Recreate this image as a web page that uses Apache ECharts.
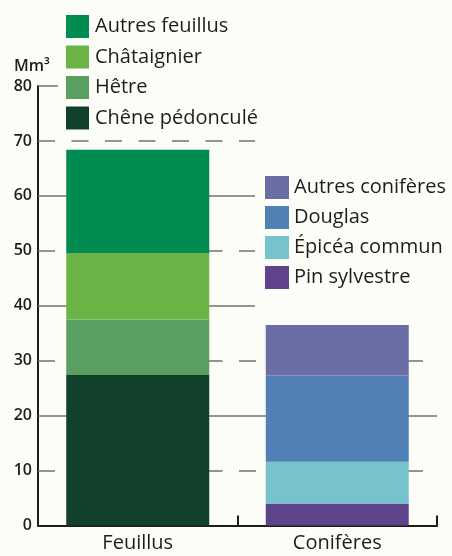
<!DOCTYPE html>
<html>
<head>
<meta charset="utf-8">
<script src="https://cdn.jsdelivr.net/npm/echarts@6/dist/echarts.min.js"></script>
<style>
html,body{margin:0;padding:0;background:#fdfdf8;}
#chart{width:452px;height:556px;}
</style>
</head>
<body>
<div id="chart"></div>
<script>
const categories = ['Feuillus', 'Conifères'];
const feuillusNames = ['Chêne pédonculé', 'Hêtre', 'Châtaignier', 'Autres feuillus'];
const feuillusValues = [27.4, 10.1, 12.1, 18.8];
const coniferesNames = ['Pin sylvestre', 'Épicéa commun', 'Douglas', 'Autres conifères'];
const coniferesValues = [4.0, 7.6, 15.7, 9.2];
const yMin = 0, yMax = 80, yInterval = 10;
const solidGridValues = [60, 40, 20];
const dashedGridValues = [70, 50, 30, 10];
const topTickValue = 80;

const feuillusColors = ['#12412b', '#5a9e62', '#6ab344', '#008c50'];
const coniferesColors = ['#5f438b', '#76c3ce', '#5180b6', '#6b6ea4'];

const FONT = 'Open Sans';
const TEXT = '#1d1d1b';
const GRID = '#707070';

// gridline extents in fraction of grid width (style)
const gridLines = [];
solidGridValues.forEach(v => {
  const end = v >= 40 ? 0.544 : 1.0;
  gridLines.push([{coord: [0, v], lineStyle: {type: 'solid'}}, {coord: [end, v]}]);
});
dashedGridValues.forEach(v => {
  const end = v >= 40 ? 0.544 : 0.965;
  gridLines.push([{coord: [0, v], lineStyle: {type: [17, 16.5]}}, {coord: [end, v]}]);
});
gridLines.push([{coord: [0, topTickValue], lineStyle: {type: 'solid'}}, {coord: [0.05, topTickValue]}]);

const series = [];
feuillusNames.forEach((n, i) => {
  series.push({
    name: n, type: 'bar', stack: 'total', barWidth: 143, z: 3,
    itemStyle: {color: feuillusColors[i]},
    data: [feuillusValues[i], '-']
  });
});
coniferesNames.forEach((n, i) => {
  series.push({
    name: n, type: 'bar', stack: 'total', barWidth: 143, z: 3,
    itemStyle: {color: coniferesColors[i]},
    data: ['-', coniferesValues[i]]
  });
});
series.push({
  type: 'line', xAxisIndex: 1, yAxisIndex: 0, z: 1, silent: true,
  data: [], symbol: 'none',
  markLine: {
    z: 1,
    silent: true, symbol: ['none', 'none'], animation: false,
    label: {show: false},
    lineStyle: {color: GRID, width: 1.5},
    data: gridLines
  }
});

const chart = echarts.init(document.getElementById('chart'), null, {renderer: 'canvas'});
chart.setOption({
  backgroundColor: '#fdfdf8',
  animation: false,
  textStyle: {fontFamily: FONT, color: TEXT},
  grid: {left: 38, right: 15, top: 86, bottom: 30.5, containLabel: false},
  legend: [
    {
      data: feuillusNames.slice().reverse(),
      orient: 'vertical', left: 66, top: 15, padding: 0,
      itemWidth: 23, itemHeight: 23, itemGap: 7.5, icon: 'rect',
      selectedMode: false,
      textStyle: {fontFamily: FONT, fontSize: 20, fontWeight: 500, color: TEXT, padding: [0, 0, 0, 1]}
    },
    {
      data: coniferesNames.slice().reverse(),
      orient: 'vertical', left: 265, top: 176, padding: 0,
      itemWidth: 24, itemHeight: 23, itemGap: 7, icon: 'rect',
      selectedMode: false,
      textStyle: {fontFamily: FONT, fontSize: 20, fontWeight: 500, color: TEXT}
    }
  ],
  xAxis: [
    {
      type: 'category', data: categories,
      axisLine: {lineStyle: {color: TEXT, width: 2}},
      axisTick: {show: true, inside: true, length: 10, alignWithLabel: false, lineStyle: {color: TEXT, width: 2}},
      axisLabel: {fontFamily: FONT, fontSize: 20, fontWeight: 500, color: TEXT, margin: 8}
    },
    {type: 'value', min: 0, max: 1, show: false}
  ],
  yAxis: {
    type: 'value', min: yMin, max: yMax, interval: yInterval,
    name: 'Mm³', nameLocation: 'end', nameGap: 12,
    nameTextStyle: {fontFamily: FONT, fontSize: 16, color: TEXT, fontWeight: 600, align: 'center', padding: [0, 12, 0, 0]},
    axisLine: {show: true, lineStyle: {color: TEXT, width: 2}},
    axisTick: {show: false},
    splitLine: {show: false},
    axisLabel: {fontFamily: FONT, fontSize: 16, color: TEXT, fontWeight: 600, margin: 6}
  },
  series: series
});
</script>
</body>
</html>
